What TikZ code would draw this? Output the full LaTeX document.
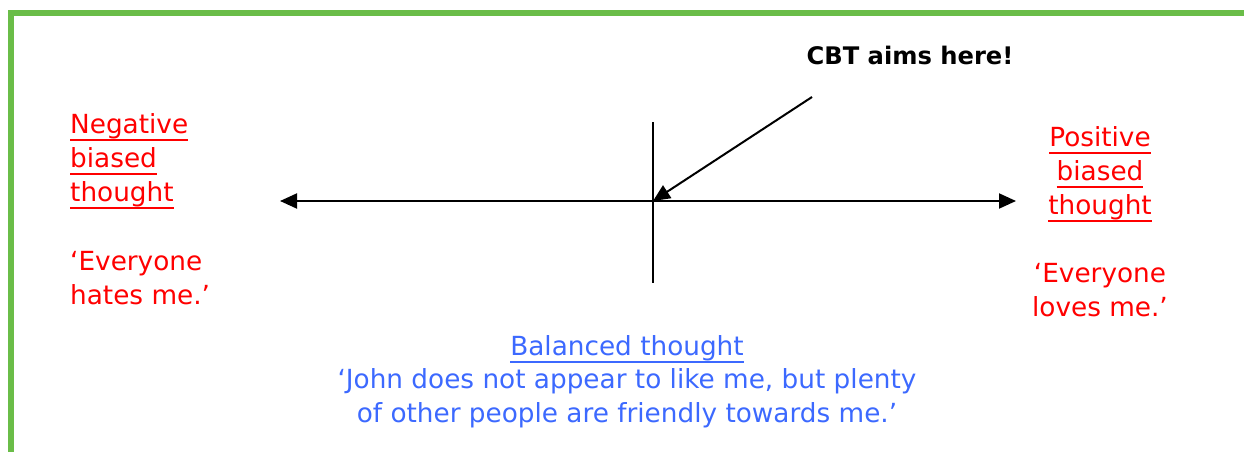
\documentclass[tikz,border=0pt]{standalone}
\usepackage{fontspec}
\setmainfont{DejaVu Sans}
\usetikzlibrary{arrows.meta}
\definecolor{frame}{RGB}{106,189,72}
\definecolor{negred}{RGB}{255,0,0}
\definecolor{balblue}{RGB}{60,105,255}
\tikzset{
  txt/.style={inner sep=0pt, font=\fontsize{26.3}{34}\selectfont},
  axis/.style={line width=2pt, black},
  tiparrow/.style={line width=2pt, black, -{Triangle[length=17pt,width=15pt]}},
  bothtip/.style={line width=2pt, black, {Triangle[length=17pt,width=15pt]}-{Triangle[length=17pt,width=15pt]}},
}
\newsavebox\ulbox
\newcommand{\ul}[1]{\sbox\ulbox{#1}\rlap{\rule[-7.5pt]{\wd\ulbox}{2pt}}\usebox\ulbox}
\newcommand{\firstline}{\rule{0pt}{20pt}}
\begin{document}
\begin{tikzpicture}[x=1pt,y=-1pt]
\useasboundingbox (0,0) rectangle (1244,452);
% frame
\draw[frame, line width=6pt] (11,452) -- (11,13) -- (1244,13);
% axis
\coordinate (L) at (280,201);
\coordinate (R) at (1016,201);
\coordinate (C) at (653,201);
\coordinate (T) at (653,122);
\coordinate (B) at (653,283);
\coordinate (S) at (812,97);
\draw[bothtip] (L) -- (R);
\draw[axis] (T) -- (B);
\draw[tiparrow] (S) -- (C);
% labels
\node[txt, anchor=base, font=\fontsize{24.2}{34}\selectfont\bfseries] (cbt) at (910,64) {CBT aims here!};
\node[txt, anchor=north west, align=left, text=negred] (neg) at (70,113)
  {\firstline\ul{Negative}\\ \ul{biased}\\ \ul{thought}\\[35pt] ‘Everyone\\ hates me.’};
\node[txt, anchor=north, align=center, text=negred] (pos) at (1100,126.5)
  {\firstline\ul{Positive}\\ \ul{biased}\\ \ul{thought}\\[34pt] ‘Everyone\\ loves me.’};
\node[txt, anchor=north, align=center, text=balblue, font=\fontsize{26.3}{33.5}\selectfont] (bal) at (627,335)
  {\firstline\ul{Balanced thought}\\ ‘John does not appear to like me, but plenty\\ of other people are friendly towards me.’};
\end{tikzpicture}
\end{document}
